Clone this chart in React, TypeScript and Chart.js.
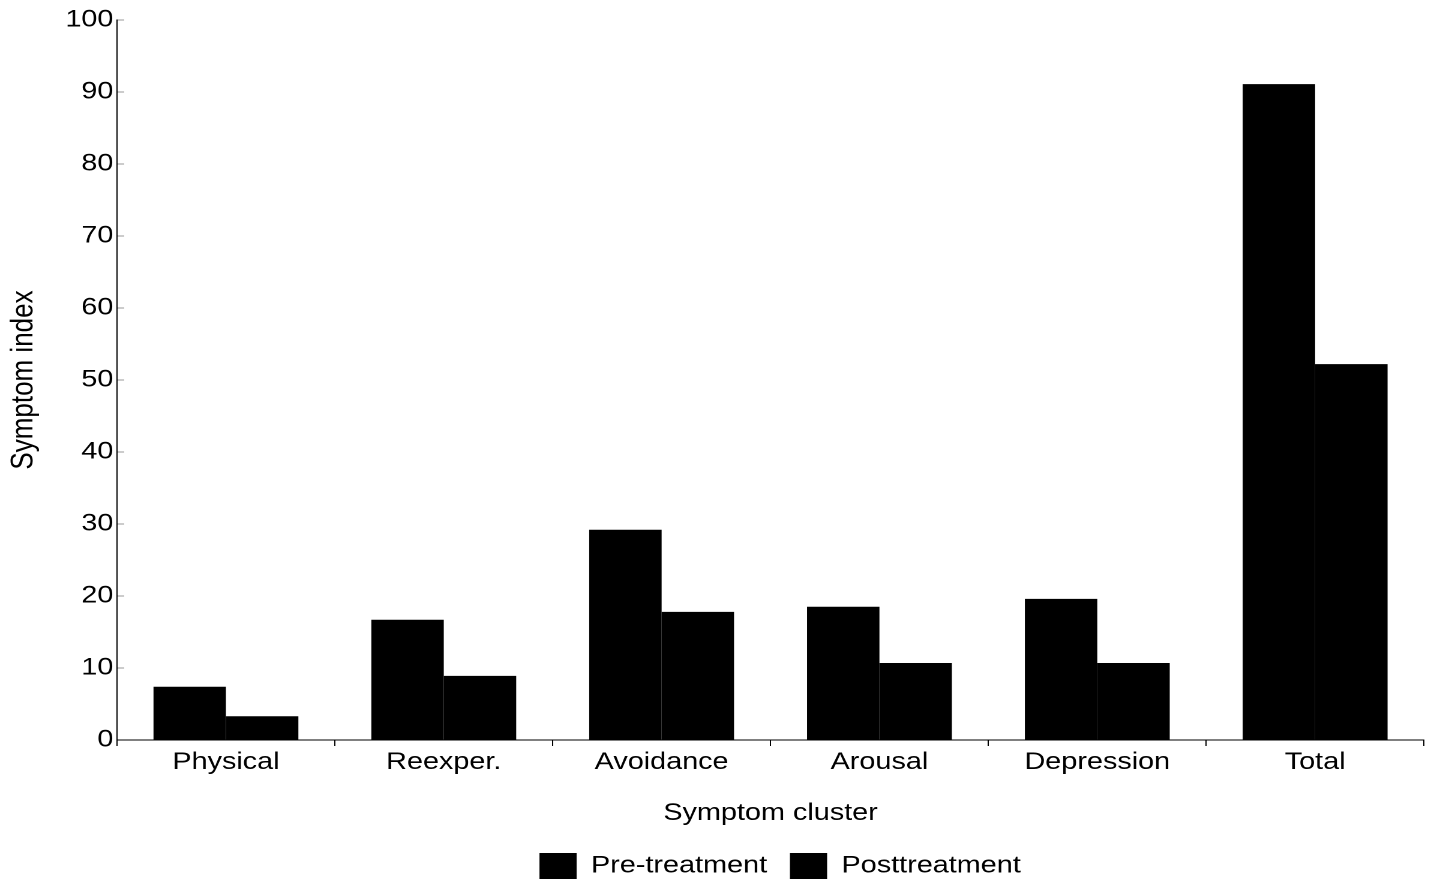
import React, { useEffect, useRef } from 'react';
import { Chart, registerables } from 'chart.js';

Chart.register(...registerables);

// ---- data ----
const categories = ['Physical', 'Reexper.', 'Avoidance', 'Arousal', 'Depression', 'Total'];
const seriesLabels = ['Pre-treatment', 'Posttreatment'];
const preTreatment = [7.4, 16.7, 29.2, 18.5, 19.6, 91.1];
const postTreatment = [3.3, 8.9, 17.8, 10.7, 10.7, 52.2];
const yMin = 0;
const yMax = 100;
const yStep = 10;
const xTitle = 'Symptom cluster';
const yTitle = 'Symptom index';

// logical canvas size (displayed stretched horizontally to match reference)
const LOGICAL_W = 1200;
const LOGICAL_H = 889;
const DISPLAY_W = 1440;

const FONT_FAMILY = "'Liberation Sans', Arial, Helvetica, sans-serif";
const font = { family: FONT_FAMILY, size: 24 };
const yTickFont = { family: FONT_FAMILY, size: 24, lineHeight: 0.6 };
const yTitleFont = { family: FONT_FAMILY, size: 26 };

const legendShift = {
  id: 'legendShift',
  afterLayout(chart: any) {
    const l = chart.legend;
    if (l) {
      l.left += 8;
      l.right += 8;
    }
  },
};

export default function App() {
  const canvasRef = useRef<HTMLCanvasElement | null>(null);

  useEffect(() => {
    const canvas = canvasRef.current;
    if (!canvas) return;
    Chart.defaults.color = '#000';
    const chart = new Chart(canvas, {
      type: 'bar',
      data: {
        labels: categories,
        datasets: [
          {
            label: seriesLabels[0],
            data: preTreatment,
            backgroundColor: '#000000',
            borderWidth: 0,
            categoryPercentage: 0.665,
            barPercentage: 1.0,
          },
          {
            label: seriesLabels[1],
            data: postTreatment,
            backgroundColor: '#000000',
            borderWidth: 0,
            categoryPercentage: 0.665,
            barPercentage: 1.0,
          },
        ],
      },
      options: {
        responsive: false,
        animation: false,
        devicePixelRatio: 2,
        layout: { padding: { top: 20, right: 13.3, bottom: 0, left: 0 } },
        plugins: {
          legend: {
            position: 'bottom',
            fullSize: false,
            labels: {
              boxWidth: 31,
              boxHeight: 26,
              padding: 19,
              color: '#000',
              font,
            },
          },
          tooltip: { enabled: false },
        },
        scales: {
          x: {
            offset: true,
            ticks: { color: '#000', font, padding: 2 },
            grid: {
              offset: true,
              drawOnChartArea: false,
              drawTicks: true,
              tickLength: 6,
              color: '#000',
              lineWidth: 1,
            },
            border: { display: true, color: '#000', width: 1 },
            title: {
              display: true,
              text: xTitle,
              color: '#000',
              font,
              padding: { top: 0, bottom: 6 },
            },
            afterFit: (s: any) => {
              s.height = 94;
            },
          },
          y: {
            min: yMin,
            max: yMax,
            ticks: { stepSize: yStep, color: '#000', font: yTickFont, padding: 9 },
            grid: {
              drawOnChartArea: false,
              drawTicks: true,
              tickLength: -6,
              color: '#999',
              lineWidth: 1,
            },
            border: { display: true, color: '#000', width: 1 },
            title: {
              display: true,
              text: yTitle,
              color: '#000',
              font: yTitleFont,
              padding: { top: 4, bottom: 0 },
            },
            afterFit: (s: any) => {
              s.width = 97.5;
            },
          },
        },
      } as any,
      plugins: [legendShift],
    });
    return () => {
      chart.destroy();
    };
  }, []);

  return (
    <div
      style={{
        position: 'fixed',
        left: 0,
        top: 0,
        width: DISPLAY_W,
        height: 884,
        overflow: 'hidden',
        background: '#fff',
      }}
    >
      <canvas
        ref={canvasRef}
        width={LOGICAL_W}
        height={LOGICAL_H}
        style={{ display: 'block', width: DISPLAY_W + 'px', height: LOGICAL_H + 'px' }}
      />
    </div>
  );
}
